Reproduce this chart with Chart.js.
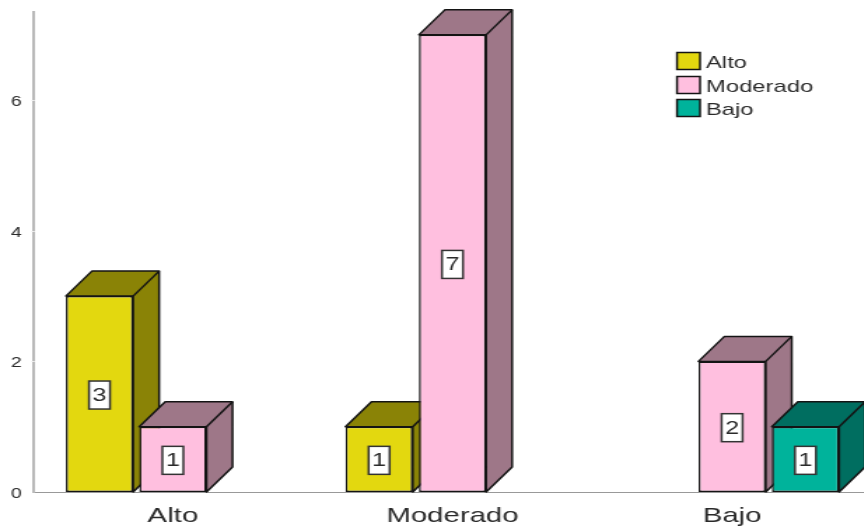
<!DOCTYPE html>
<html>
<head>
<meta charset="utf-8">
<style>
html,body{margin:0;padding:0;background:#fff;overflow:hidden;width:864px;height:526px}
canvas{display:block}
</style>
<script src="https://cdn.jsdelivr.net/npm/chart.js@4/dist/chart.umd.min.js"></script>
</head>
<body>
<canvas id="c" width="630" height="526"></canvas>
<script>
const categories = ['Alto', 'Moderado', 'Bajo'];
const seriesNames = ['Alto', 'Moderado', 'Bajo'];
const altoValues = [3, 1, null];
const moderadoValues = [1, 7, 2];
const bajoValues = [null, null, 1];
const yTickValues = [0, 2, 4, 6];
const frontColors = ['#E3D80F', '#FFBFDF', '#00B39B'];
const sideColors = ['#8A8306', '#9E7788', '#006E60'];

const STRETCH = 1.4, DEPTH_X = 26 / STRETCH, DEPTH_Y = 25, INK = '#141414', TEXT = '#2a2a2a';

const bars3d = {
  id: 'bars3d',
  beforeDatasetsDraw(chart) {
    const ctx = chart.ctx;
    chart.data.datasets.forEach((ds, d) => {
      chart.getDatasetMeta(d).data.forEach((el, i) => {
        if (ds.data[i] == null) return;
        const p = el.getProps(['x', 'y', 'base', 'width'], true);
        const l = p.x - p.width / 2, r = p.x + p.width / 2;
        ctx.save();
        ctx.lineWidth = 1.5;
        ctx.strokeStyle = INK;
        ctx.lineJoin = 'round';
        ctx.fillStyle = sideColors[d];
        ctx.beginPath();
        ctx.moveTo(l, p.y);
        ctx.lineTo(l + DEPTH_X, p.y - DEPTH_Y);
        ctx.lineTo(r + DEPTH_X, p.y - DEPTH_Y);
        ctx.lineTo(r + DEPTH_X, p.base - DEPTH_Y);
        ctx.lineTo(r, p.base);
        ctx.lineTo(r, p.y);
        ctx.closePath();
        ctx.fill();
        ctx.stroke();
        ctx.beginPath();
        ctx.moveTo(r, p.y);
        ctx.lineTo(r + DEPTH_X, p.y - DEPTH_Y);
        ctx.stroke();
        ctx.restore();
      });
    });
  },
  afterDatasetsDraw(chart) {
    const ctx = chart.ctx;
    chart.data.datasets.forEach((ds, d) => {
      chart.getDatasetMeta(d).data.forEach((el, i) => {
        const v = ds.data[i];
        if (v == null) return;
        const p = el.getProps(['x', 'y', 'base'], true);
        const cy = (p.y + p.base) / 2 + 1;
        const w = 15, h = 28;
        ctx.save();
        ctx.fillStyle = '#fff';
        ctx.strokeStyle = '#333';
        ctx.lineWidth = 1.5;
        ctx.fillRect(p.x - w / 2, cy - h / 2, w, h);
        ctx.strokeRect(p.x - w / 2, cy - h / 2, w, h);
        ctx.fillStyle = TEXT;
        ctx.font = '18px "Liberation Sans"';
        ctx.textAlign = 'center';
        ctx.textBaseline = 'middle';
        ctx.fillText(String(v), p.x, cy + 1);
        ctx.restore();
      });
    });
    // legend
    const lx = 677 / STRETCH, tx = 706 / STRETCH, sw = 23 / STRETCH;
    const rows = [61, 85, 108];
    seriesNames.forEach((name, i) => {
      ctx.save();
      ctx.fillStyle = frontColors[i];
      ctx.strokeStyle = INK;
      ctx.lineWidth = 1.5;
      ctx.fillRect(lx, rows[i] - 8.5, sw, 17);
      ctx.strokeRect(lx, rows[i] - 8.5, sw, 17);
      ctx.fillStyle = TEXT;
      ctx.font = '17px "Liberation Sans"';
      ctx.textBaseline = 'middle';
      ctx.fillText(name, tx, rows[i] + 2);
      ctx.restore();
    });
    // tick notches on the y axis line
    const ys = chart.scales.y;
    ctx.save();
    ctx.strokeStyle = '#eee';
    ctx.lineWidth = 1;
    yTickValues.slice(1).forEach(t => {
      const y = Math.round(ys.getPixelForValue(t)) + 0.5;
      ctx.beginPath();
      ctx.moveTo(ys.right - 1.2, y);
      ctx.lineTo(ys.right + 1.2, y);
      ctx.stroke();
    });
    ctx.restore();
  }
};

const chart = new Chart(document.getElementById('c'), {
  type: 'bar',
  plugins: [bars3d],
  data: {
    labels: categories,
    datasets: [altoValues, moderadoValues, bajoValues].map((vals, i) => ({
      label: seriesNames[i],
      data: vals,
      backgroundColor: frontColors[i],
      borderColor: INK,
      borderWidth: 1.5,
      borderSkipped: false,
      categoryPercentage: 0.787,
      barPercentage: 0.917
    }))
  },
  options: {
    responsive: false,
    animation: false,
    devicePixelRatio: 1,
    layout: { autoPadding: false, padding: { top: 12, right: 7.2, left: 0, bottom: 0 } },
    plugins: { legend: { display: false }, tooltip: { enabled: false }, title: { display: false } },
    scales: {
      x: {
        grid: { display: false, tickLength: 0 },
        border: { display: true, color: '#999', width: 1 },
        afterFit(s) { s.height = 34; },
        ticks: {
          color: TEXT, padding: 12, maxRotation: 0,
          font: { family: '"Liberation Sans"', size: 21 }
        }
      },
      y: {
        min: 0,
        max: 7.35,
        grid: { display: false, tickLength: 0 },
        border: { display: true, color: '#b9b9b9', width: 2 },
        afterFit(s) { s.width = 23.6; s.paddingTop = 0; s.paddingBottom = 0; },
        afterBuildTicks(s) { s.ticks = yTickValues.map(v => ({ value: v })); },
        ticks: {
          color: TEXT, padding: 8, labelOffset: 2,
          font: { family: '"Liberation Sans"', size: 14 }
        }
      }
    }
  }
});
const cv = document.getElementById('c');
cv.style.width = (630 * STRETCH) + 'px';
cv.style.height = '526px';
</script>
</body>
</html>
